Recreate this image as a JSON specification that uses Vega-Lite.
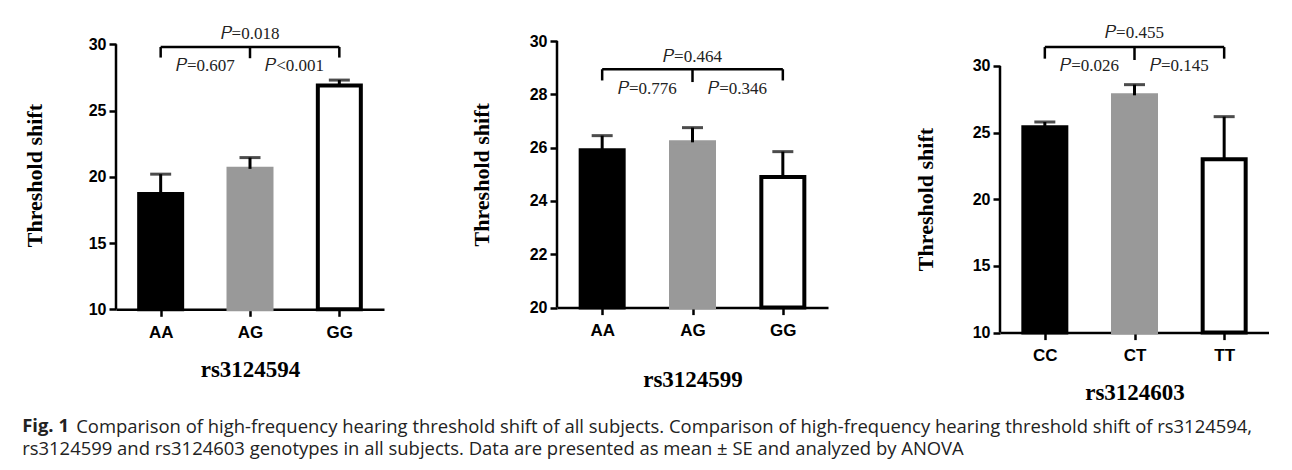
{
  "$schema": "https://vega.github.io/schema/vega-lite/v6.json",
  "padding": {"left": 22, "top": 23, "right": 0, "bottom": 0},
  "background": "white",
  "datasets": {
    "bars": [
      {"snp": "rs3124594", "g": "AA", "mean": 18.7, "upper": 20.2},
      {"snp": "rs3124594", "g": "AG", "mean": 20.6, "upper": 21.45},
      {"snp": "rs3124594", "g": "GG", "mean": 26.9, "upper": 27.3},
      {"snp": "rs3124599", "g": "AA", "mean": 25.9, "upper": 26.45},
      {"snp": "rs3124599", "g": "AG", "mean": 26.2, "upper": 26.75},
      {"snp": "rs3124599", "g": "GG", "mean": 24.9, "upper": 25.85},
      {"snp": "rs3124603", "g": "CC", "mean": 25.4, "upper": 25.8},
      {"snp": "rs3124603", "g": "CT", "mean": 27.8, "upper": 28.6},
      {"snp": "rs3124603", "g": "TT", "mean": 23.0, "upper": 26.2}
    ],
    "axislines": [
      {"snp": "rs3124594", "g": "L", "lo": 10, "hi": 30},
      {"snp": "rs3124599", "g": "L", "lo": 20, "hi": 30},
      {"snp": "rs3124603", "g": "L", "lo": 10, "hi": 30}
    ],
    "brackets": [
      {"snp": "rs3124594", "g": "AA", "g2": "GG", "y": 29.8, "y2": 29.8},
      {"snp": "rs3124594", "g": "AA", "g2": "AA", "y": 29.8, "y2": 29.0},
      {"snp": "rs3124594", "g": "AG", "g2": "AG", "y": 29.8, "y2": 28.95},
      {"snp": "rs3124594", "g": "GG", "g2": "GG", "y": 29.8, "y2": 29.0},
      {"snp": "rs3124599", "g": "AA", "g2": "GG", "y": 28.94, "y2": 28.94},
      {"snp": "rs3124599", "g": "AA", "g2": "AA", "y": 28.94, "y2": 28.52},
      {"snp": "rs3124599", "g": "AG", "g2": "AG", "y": 28.94, "y2": 28.46},
      {"snp": "rs3124599", "g": "GG", "g2": "GG", "y": 28.94, "y2": 28.52},
      {"snp": "rs3124603", "g": "CC", "g2": "TT", "y": 31.42, "y2": 31.42},
      {"snp": "rs3124603", "g": "CC", "g2": "CC", "y": 31.42, "y2": 30.55},
      {"snp": "rs3124603", "g": "CT", "g2": "CT", "y": 31.42, "y2": 30.45},
      {"snp": "rs3124603", "g": "TT", "g2": "TT", "y": 31.42, "y2": 30.55}
    ],
    "pvals": [
      {"snp": "rs3124594", "g": "AG", "y": 30.8, "label": "𝑃=0.018"},
      {"snp": "rs3124594", "g": "AA|AG", "y": 28.35, "label": "𝑃=0.607"},
      {"snp": "rs3124594", "g": "AG|GG", "y": 28.35, "label": "𝑃<0.001"},
      {"snp": "rs3124599", "g": "AG", "y": 29.41, "label": "𝑃=0.464"},
      {"snp": "rs3124599", "g": "AA|AG", "y": 28.19, "label": "𝑃=0.776"},
      {"snp": "rs3124599", "g": "AG|GG", "y": 28.19, "label": "𝑃=0.346"},
      {"snp": "rs3124603", "g": "CT", "y": 32.5, "label": "𝑃=0.455"},
      {"snp": "rs3124603", "g": "CC|CT", "y": 30.0, "label": "𝑃=0.026"},
      {"snp": "rs3124603", "g": "CT|TT", "y": 30.0, "label": "𝑃=0.145"}
    ]
  },
  "title": {
    "text": "Fig. 1",
    "subtitle": [
      "\u200b\u00a0\u00a0\u00a0\u00a0\u00a0\u00a0\u00a0\u00a0\u00a0\u00a0\u2009\u2009Comparison of high-frequency hearing threshold shift of all subjects. Comparison of high-frequency hearing threshold shift of rs3124594,",
      "rs3124599 and rs3124603 genotypes in all subjects. Data are presented as mean ± SE and analyzed by ANOVA"
    ],
    "orient": "bottom",
    "anchor": "start",
    "offset": 12,
    "dx": -1.5,
    "font": "Open Sans",
    "fontSize": 18.45,
    "fontWeight": "bold",
    "lineHeight": 22,
    "color": "#222",
    "subtitleFont": "Open Sans",
    "subtitleFontSize": 18.45,
    "subtitleFontWeight": "normal",
    "subtitleLineHeight": 22,
    "subtitleColor": "#222",
    "subtitlePadding": -17
  },
  "hconcat": [
    {
      "width": 268,
      "height": 268.3,
      "encoding": {
        "x": {
          "field": "g", "type": "nominal",
          "scale": {"type": "point", "domain": ["L", "AA", "AA|AG", "AG", "AG|GG", "GG", "R"], "padding": 0},
          "axis": {"values": ["AA", "AG", "GG"], "title": "rs3124594", "titlePadding": 18}
        }
      },
      "layer": [
        {
          "data": {"name": "bars"},
          "transform": [{"filter": "datum.snp == 'rs3124594'"}],
          "mark": {"type": "bar", "width": 43, "strokeWidth": 4},
          "encoding": {
            "y": {"field": "mean", "type": "quantitative", "title": "Threshold shift",
                  "scale": {"domain": [10, 30.25], "nice": false, "zero": false},
                  "axis": {"values": [10, 15, 20, 25, 30], "domain": false, "titlePadding": 41.5}},
            "y2": {"datum": 10},
            "fill": {"field": "g", "type": "nominal", "legend": null,
                     "scale": {"domain": ["AA", "AG", "GG", "CC", "CT", "TT"], "range": ["black", "#999999", "white", "black", "#999999", "white"]}},
            "stroke": {"field": "g", "type": "nominal", "legend": null,
                     "scale": {"domain": ["AA", "AG", "GG", "CC", "CT", "TT"], "range": ["black", "#999999", "black", "black", "#999999", "black"]}}
          }
        },
        {
          "data": {"name": "bars"},
          "transform": [{"filter": "datum.snp == 'rs3124594'"}],
          "mark": {"type": "rule", "strokeWidth": 3, "color": "black"},
          "encoding": {
            "y": {"field": "mean", "type": "quantitative", "title": "Threshold shift"},
            "y2": {"field": "upper"}
          }
        },
        {
          "data": {"name": "bars"},
          "transform": [{"filter": "datum.snp == 'rs3124594'"}],
          "mark": {"type": "tick", "size": 21, "thickness": 3, "color": "black"},
          "encoding": {
            "y": {"field": "upper", "type": "quantitative", "title": "Threshold shift"}
          }
        },
        {
          "data": {"name": "axislines"},
          "transform": [{"filter": "datum.snp == 'rs3124594'"}],
          "mark": {"type": "rule", "strokeWidth": 2.5, "color": "black"},
          "encoding": {
            "y": {"field": "lo", "type": "quantitative", "title": "Threshold shift"},
            "y2": {"field": "hi"}
          }
        },
        {
          "data": {"name": "brackets"},
          "transform": [{"filter": "datum.snp == 'rs3124594'"}],
          "mark": {"type": "rule", "strokeWidth": 2.5, "color": "black"},
          "encoding": {
            "x2": {"field": "g2"},
            "y": {"field": "y", "type": "quantitative", "title": "Threshold shift"},
            "y2": {"field": "y2"}
          }
        },
        {
          "data": {"name": "pvals"},
          "transform": [{"filter": "datum.snp == 'rs3124594'"}],
          "mark": {"type": "text", "font": "Liberation Serif", "fontSize": 17, "color": "#222"},
          "encoding": {
            "y": {"field": "y", "type": "quantitative", "title": "Threshold shift"},
            "text": {"field": "label"}
          }
        }
      ]
    },
    {
      "width": 271,
      "height": 266.6,
      "encoding": {
        "x": {
          "field": "g", "type": "nominal",
          "scale": {"type": "point", "domain": ["L", "AA", "AA|AG", "AG", "AG|GG", "GG", "R"], "padding": 0},
          "axis": {"values": ["AA", "AG", "GG"], "title": "rs3124599", "titlePadding": 30}
        }
      },
      "layer": [
        {
          "data": {"name": "bars"},
          "transform": [{"filter": "datum.snp == 'rs3124599'"}],
          "mark": {"type": "bar", "width": 43, "strokeWidth": 4},
          "encoding": {
            "y": {"field": "mean", "type": "quantitative", "title": "Threshold shift",
                  "scale": {"domain": [20, 30], "nice": false, "zero": false},
                  "axis": {"values": [20, 22, 24, 26, 28, 30], "domain": false, "titlePadding": 36}},
            "y2": {"datum": 20},
            "fill": {"field": "g", "type": "nominal", "legend": null},
            "stroke": {"field": "g", "type": "nominal", "legend": null}
          }
        },
        {
          "data": {"name": "bars"},
          "transform": [{"filter": "datum.snp == 'rs3124599'"}],
          "mark": {"type": "rule", "strokeWidth": 3, "color": "black"},
          "encoding": {
            "y": {"field": "mean", "type": "quantitative", "title": "Threshold shift"},
            "y2": {"field": "upper"}
          }
        },
        {
          "data": {"name": "bars"},
          "transform": [{"filter": "datum.snp == 'rs3124599'"}],
          "mark": {"type": "tick", "size": 21, "thickness": 3, "color": "black"},
          "encoding": {
            "y": {"field": "upper", "type": "quantitative", "title": "Threshold shift"}
          }
        },
        {
          "data": {"name": "axislines"},
          "transform": [{"filter": "datum.snp == 'rs3124599'"}],
          "mark": {"type": "rule", "strokeWidth": 2.5, "color": "black"},
          "encoding": {
            "y": {"field": "lo", "type": "quantitative", "title": "Threshold shift"},
            "y2": {"field": "hi"}
          }
        },
        {
          "data": {"name": "brackets"},
          "transform": [{"filter": "datum.snp == 'rs3124599'"}],
          "mark": {"type": "rule", "strokeWidth": 2.5, "color": "black"},
          "encoding": {
            "x2": {"field": "g2"},
            "y": {"field": "y", "type": "quantitative", "title": "Threshold shift"},
            "y2": {"field": "y2"}
          }
        },
        {
          "data": {"name": "pvals"},
          "transform": [{"filter": "datum.snp == 'rs3124599'"}],
          "mark": {"type": "text", "font": "Liberation Serif", "fontSize": 17, "color": "#222"},
          "encoding": {
            "y": {"field": "y", "type": "quantitative", "title": "Threshold shift"},
            "text": {"field": "label"}
          }
        }
      ]
    },
    {
      "width": 269,
      "height": 291.6,
      "encoding": {
        "x": {
          "field": "g", "type": "nominal",
          "scale": {"type": "point", "domain": ["L", "CC", "CC|CT", "CT", "CT|TT", "TT", "R"], "padding": 0},
          "axis": {"values": ["CC", "CT", "TT"], "title": "rs3124603", "titlePadding": 18}
        }
      },
      "layer": [
        {
          "data": {"name": "bars"},
          "transform": [{"filter": "datum.snp == 'rs3124603'"}],
          "mark": {"type": "bar", "width": 43, "strokeWidth": 4},
          "encoding": {
            "y": {"field": "mean", "type": "quantitative", "title": "Threshold shift",
                  "scale": {"domain": [10, 31.875], "nice": false, "zero": false},
                  "axis": {"values": [10, 15, 20, 25, 30], "domain": false, "titleY": 158, "titlePadding": 35}},
            "y2": {"datum": 10},
            "fill": {"field": "g", "type": "nominal", "legend": null},
            "stroke": {"field": "g", "type": "nominal", "legend": null}
          }
        },
        {
          "data": {"name": "bars"},
          "transform": [{"filter": "datum.snp == 'rs3124603'"}],
          "mark": {"type": "rule", "strokeWidth": 3, "color": "black"},
          "encoding": {
            "y": {"field": "mean", "type": "quantitative", "title": "Threshold shift"},
            "y2": {"field": "upper"}
          }
        },
        {
          "data": {"name": "bars"},
          "transform": [{"filter": "datum.snp == 'rs3124603'"}],
          "mark": {"type": "tick", "size": 21, "thickness": 3, "color": "black"},
          "encoding": {
            "y": {"field": "upper", "type": "quantitative", "title": "Threshold shift"}
          }
        },
        {
          "data": {"name": "axislines"},
          "transform": [{"filter": "datum.snp == 'rs3124603'"}],
          "mark": {"type": "rule", "strokeWidth": 2.5, "color": "black"},
          "encoding": {
            "y": {"field": "lo", "type": "quantitative", "title": "Threshold shift"},
            "y2": {"field": "hi"}
          }
        },
        {
          "data": {"name": "brackets"},
          "transform": [{"filter": "datum.snp == 'rs3124603'"}],
          "mark": {"type": "rule", "strokeWidth": 2.5, "color": "black"},
          "encoding": {
            "x2": {"field": "g2"},
            "y": {"field": "y", "type": "quantitative", "title": "Threshold shift"},
            "y2": {"field": "y2"}
          }
        },
        {
          "data": {"name": "pvals"},
          "transform": [{"filter": "datum.snp == 'rs3124603'"}],
          "mark": {"type": "text", "font": "Liberation Serif", "fontSize": 17, "color": "#222"},
          "encoding": {
            "y": {"field": "y", "type": "quantitative", "title": "Threshold shift"},
            "text": {"field": "label"}
          }
        }
      ]
    }
  ],
  "spacing": 86,
  "resolve": {"scale": {"x": "independent", "y": "independent", "fill": "shared", "stroke": "shared"}},
  "config": {
    "view": {"stroke": null},
    "axis": {
      "grid": false,
      "domainColor": "black", "domainWidth": 2.5,
      "tickColor": "black", "tickWidth": 2.5, "tickSize": 7,
      "labelFont": "Liberation Sans", "labelFontWeight": "bold", "labelColor": "black", "labelFontSize": 16,
      "titleFont": "Liberation Serif", "titleFontWeight": "bold", "titleColor": "black"
    },
    "axisX": {"labelFontSize": 17, "labelAngle": 0, "labelPadding": 8, "titleFontSize": 23},
    "axisY": {"labelFontSize": 16, "labelPadding": 3, "titleFontSize": 22}
  }
}
